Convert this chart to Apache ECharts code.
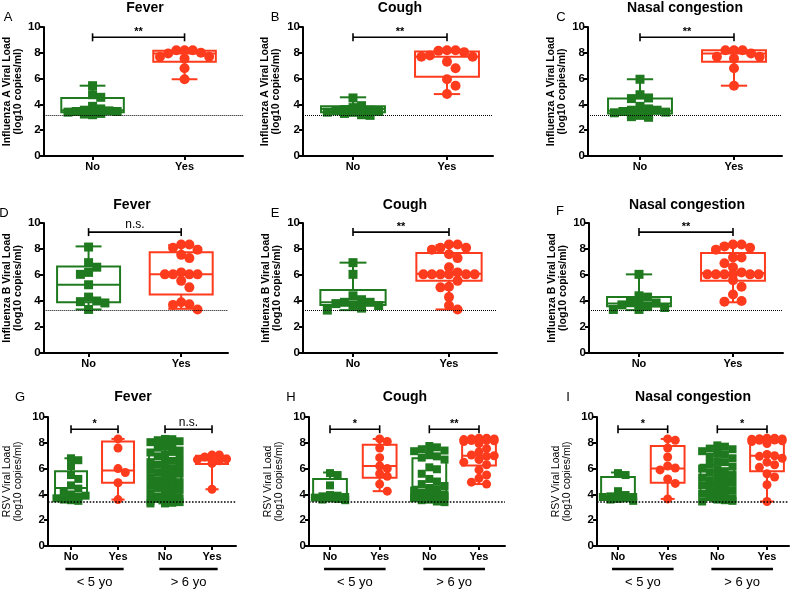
<!DOCTYPE html>
<html><head><meta charset="utf-8">
<script src="https://cdn.jsdelivr.net/npm/echarts@6/dist/echarts.min.js"></script>
<style>html,body{margin:0;padding:0;background:#fff}#c{width:790px;height:589px}</style>
</head><body><div id="c"></div>
<script>
// ---------- DATA ----------
const catsTwo = ['No', 'Yes'];
const catsFour = ['No', 'Yes', 'No', 'Yes'];
const ageGroups = ['< 5 yo', '> 6 yo'];
const symptoms = ['Fever', 'Cough', 'Nasal congestion'];
const panelLetters = ['A', 'B', 'C', 'D', 'E', 'F', 'G', 'H', 'I'];
const yAxisNames = ['Influenza A Viral Load\n(log10 copies/ml)', 'Influenza B Viral Load\n(log10 copies/ml)', 'RSV Viral Load\n(log10 copies/ml)'];
const yTickLabels = [0, 2, 4, 6, 8, 10];
const detectionLimits = [3.15, 3.3, 3.4];
const bracketLevels = [9.2, 9.3, 9.05];

// box stats: [min, Q1, median, Q3, max]
const fluA_fever_no = [5.45, 4.75, 4.55, 3.85, 3.65, 3.55, 3.5, 3.45, 3.45, 3.4, 3.35, 3.3, 3.25, 3.2];
const fluA_fever_no_box = [3.2, 3.4, 3.55, 4.5, 5.45];
const fluA_fever_yes = [8.2, 8.2, 8.2, 8.0, 7.95, 7.7, 7.7, 7.55, 6.8, 5.95];
const fluA_fever_yes_box = [5.95, 7.3, 7.95, 8.15, 8.2];
const fluA_cough_no = [4.5, 3.9, 3.75, 3.6, 3.55, 3.5, 3.45, 3.4, 3.4, 3.35, 3.3, 3.2, 3.15];
const fluA_cough_no_box = [3.15, 3.4, 3.65, 3.85, 4.55];
const fluA_cough_yes = [8.2, 8.2, 8.15, 8.05, 7.8, 7.7, 7.7, 7.3, 6.8, 5.95, 5.45, 4.8];
const fluA_cough_yes_box = [4.8, 6.15, 7.7, 8.1, 8.2];
const fluA_nasal_no = [5.95, 4.75, 4.5, 4.45, 3.85, 3.65, 3.55, 3.55, 3.45, 3.4, 3.35, 3.3, 3.15, 3.15, 3.05, 3.0];
const fluA_nasal_no_box = [3.0, 3.3, 3.5, 4.45, 5.95];
const fluA_nasal_yes = [8.2, 8.2, 8.2, 7.95, 7.7, 7.7, 7.55, 6.8, 5.45];
const fluA_nasal_yes_box = [5.45, 7.3, 7.95, 8.2, 8.2];

const fluB_fever_no = [8.15, 6.95, 6.6, 6.2, 6.05, 5.25, 4.3, 4.0, 3.95, 3.85, 3.35];
const fluB_fever_no_box = [3.35, 3.9, 5.25, 6.65, 8.2];
const fluB_fever_yes = [8.35, 8.35, 8.1, 7.95, 7.55, 7.3, 6.2, 6.05, 6.05, 6.05, 6.05, 5.55, 5.05, 3.9, 3.75, 3.7, 3.35];
const fluB_fever_yes_box = [3.4, 4.5, 6.05, 7.75, 8.3];
const fluB_cough_no = [6.95, 6.05, 4.4, 4.1, 3.9, 3.9, 3.8, 3.7, 3.65, 3.45, 3.3];
const fluB_cough_no_box = [3.3, 3.7, 3.9, 4.85, 6.95];
const fluB_cough_yes = [8.35, 8.35, 8.1, 8.1, 7.95, 7.6, 7.3, 6.6, 6.2, 6.05, 6.05, 6.05, 6.05, 6.05, 6.05, 5.55, 5.1, 5.05, 4.3, 3.65, 3.35];
const fluB_cough_yes_box = [3.35, 5.55, 6.1, 7.7, 8.3];
const fluB_nasal_no = [6.05, 4.4, 4.3, 3.9, 3.85, 3.75, 3.7, 3.6, 3.5, 3.35, 3.35];
const fluB_nasal_no_box = [3.3, 3.6, 3.8, 4.3, 6.05];
const fluB_nasal_yes = [8.35, 8.35, 8.2, 8.1, 7.95, 7.35, 7.35, 6.9, 6.6, 6.2, 6.05, 6.05, 6.05, 6.05, 6.05, 6.05, 5.6, 5.1, 4.5, 4.0, 3.95];
const fluB_nasal_yes_box = [3.9, 5.55, 6.15, 7.7, 8.35];

const rsv_fever_u5_no = [6.8, 6.65, 6.2, 5.5, 5.2, 4.7, 4.45, 4.2, 4.0, 3.9, 3.8, 3.7, 3.6, 3.55, 3.5];
const rsv_fever_u5_no_box = [3.5, 3.85, 4.5, 5.8, 6.8];
const rsv_fever_u5_yes = [8.3, 7.6, 6.0, 5.7, 4.9, 3.6];
const rsv_fever_u5_yes_box = [3.6, 4.9, 5.85, 8.1, 8.3];
const rsv_fever_o6_no = [8.3, 8.28, 8.2, 8.12, 8.05, 7.95, 7.9, 7.7, 7.62, 7.4, 7.3, 7.25, 7.1, 6.95, 6.8, 6.75, 6.6, 6.5, 6.45, 6.3, 6.2, 6.15, 6.0, 5.9, 5.85, 5.7, 5.6, 5.5, 5.45, 5.3, 5.2, 5.1, 5.05, 4.95, 4.8, 4.7, 4.65, 4.5, 4.4, 4.35, 4.2, 4.1, 4.05, 3.95, 3.85, 3.8, 3.7, 3.65, 3.6, 3.5, 3.45, 3.4, 3.35, 3.3, 3.3];
const rsv_fever_o6_no_box = [3.3, 4.0, 5.0, 7.1, 8.3];
const rsv_fever_o6_yes = [7.05, 7.05, 6.9, 6.75, 6.7, 6.65, 6.6, 6.4, 4.4];
const rsv_fever_o6_yes_box = [4.4, 6.35, 6.65, 7.0, 7.05];

const rsv_cough_u5_no = [5.65, 5.5, 4.7, 3.95, 3.9, 3.85, 3.8, 3.75, 3.7, 3.65, 3.6, 3.55];
const rsv_cough_u5_no_box = [3.5, 3.75, 3.9, 5.2, 5.7];
const rsv_cough_u5_yes = [8.3, 8.1, 7.6, 6.85, 6.2, 6.0, 5.6, 5.4, 4.8, 4.25];
const rsv_cough_u5_yes_box = [4.25, 5.3, 6.2, 7.85, 8.3];
const rsv_cough_o6_no = [7.75, 7.65, 7.5, 7.4, 7.35, 7.2, 7.1, 6.95, 6.85, 6.7, 6.1, 5.95, 5.6, 5.2, 5.0, 4.8, 4.65, 4.5, 4.4, 4.3, 4.25, 4.15, 4.1, 4.0, 3.95, 3.9, 3.85, 3.8, 3.75, 3.7, 3.65, 3.6, 3.55, 3.5, 3.45, 3.4];
const rsv_cough_o6_no_box = [3.4, 3.8, 4.6, 6.8, 7.7];
const rsv_cough_o6_yes = [8.35, 8.35, 8.32, 8.3, 8.25, 8.22, 8.2, 8.18, 8.15, 8.1, 7.95, 7.55, 7.3, 7.05, 7.0, 6.95, 6.7, 6.5, 6.3, 5.9, 5.5, 5.25, 4.95, 4.8];
const rsv_cough_o6_yes_box = [4.8, 6.25, 7.0, 8.1, 8.35];

const rsv_nasal_u5_no = [5.65, 5.5, 4.25, 3.95, 3.85, 3.8, 3.8, 3.75, 3.7, 3.65, 3.6, 3.5];
const rsv_nasal_u5_no_box = [3.5, 3.7, 3.8, 5.35, 5.7];
const rsv_nasal_u5_yes = [8.3, 8.2, 7.6, 6.9, 6.2, 6.05, 5.9, 5.2, 4.85, 3.65];
const rsv_nasal_u5_yes_box = [3.65, 4.9, 6.0, 7.75, 8.3];
const rsv_nasal_o6_no = [7.8, 7.7, 7.55, 7.5, 7.35, 7.3, 7.15, 7.1, 6.9, 6.8, 6.55, 6.5, 6.3, 6.15, 6.0, 5.95, 5.8, 5.7, 5.6, 5.5, 5.45, 5.3, 5.2, 5.1, 5.05, 4.95, 4.9, 4.8, 4.7, 4.6, 4.5, 4.45, 4.4, 4.3, 4.2, 4.15, 4.05, 4.0, 3.9, 3.85, 3.8, 3.7, 3.6, 3.55, 3.5, 3.45];
const rsv_nasal_o6_no_box = [3.45, 4.1, 4.85, 6.3, 7.75];
const rsv_nasal_o6_yes = [8.35, 8.35, 8.32, 8.3, 8.28, 8.25, 8.22, 8.2, 8.15, 8.1, 7.95, 7.1, 7.0, 6.95, 6.8, 6.5, 6.3, 6.1, 5.6, 5.35, 4.75, 3.45];
const rsv_nasal_o6_yes_box = [3.45, 5.8, 7.0, 8.1, 8.35];

const sig_A = ['**'], sig_B = ['**'], sig_C = ['**'];
const sig_D = ['n.s.'], sig_E = ['**'], sig_F = ['**'];
const sig_G = ['*', 'n.s.'], sig_H = ['*', '**'], sig_I = ['*', '*'];

// ---------- ASSEMBLY ----------
const panels = [
  { cats: catsTwo, groups: [[fluA_fever_no, fluA_fever_no_box], [fluA_fever_yes, fluA_fever_yes_box]], sig: sig_A, row: 0 },
  { cats: catsTwo, groups: [[fluA_cough_no, fluA_cough_no_box], [fluA_cough_yes, fluA_cough_yes_box]], sig: sig_B, row: 0 },
  { cats: catsTwo, groups: [[fluA_nasal_no, fluA_nasal_no_box], [fluA_nasal_yes, fluA_nasal_yes_box]], sig: sig_C, row: 0 },
  { cats: catsTwo, groups: [[fluB_fever_no, fluB_fever_no_box], [fluB_fever_yes, fluB_fever_yes_box]], sig: sig_D, row: 1 },
  { cats: catsTwo, groups: [[fluB_cough_no, fluB_cough_no_box], [fluB_cough_yes, fluB_cough_yes_box]], sig: sig_E, row: 1 },
  { cats: catsTwo, groups: [[fluB_nasal_no, fluB_nasal_no_box], [fluB_nasal_yes, fluB_nasal_yes_box]], sig: sig_F, row: 1 },
  { cats: catsFour, groups: [[rsv_fever_u5_no, rsv_fever_u5_no_box], [rsv_fever_u5_yes, rsv_fever_u5_yes_box], [rsv_fever_o6_no, rsv_fever_o6_no_box], [rsv_fever_o6_yes, rsv_fever_o6_yes_box]], sig: sig_G, row: 2 },
  { cats: catsFour, groups: [[rsv_cough_u5_no, rsv_cough_u5_no_box], [rsv_cough_u5_yes, rsv_cough_u5_yes_box], [rsv_cough_o6_no, rsv_cough_o6_no_box], [rsv_cough_o6_yes, rsv_cough_o6_yes_box]], sig: sig_H, row: 2 },
  { cats: catsFour, groups: [[rsv_nasal_u5_no, rsv_nasal_u5_no_box], [rsv_nasal_u5_yes, rsv_nasal_u5_yes_box], [rsv_nasal_o6_no, rsv_nasal_o6_no_box], [rsv_nasal_o6_yes, rsv_nasal_o6_yes_box]], sig: sig_I, row: 2 }
];

// ---------- LAYOUT / STYLE ----------
const FONT = 'Liberation Sans, Arial, Helvetica, sans-serif';
const GREEN = '#1f7a1f', RED = '#ff3b1d';
const rowBox = [{ T: 27, B: 156 }, { T: 223, B: 353 }, { T: 417, B: 546 }];
const layout = [
  { L: 35, R: 243, c0: 86, c1: 182, gap: 17 },
  { L: 303, R: 493, c0: 353, c1: 447, gap: 21 },
  { L: 588, R: 782, c0: 640, c1: 734, gap: 20 },
  { L: 35, R: 228, c0: 82, c1: 179, gap: 17 },
  { L: 303, R: 497, c0: 353, c1: 449, gap: 20 },
  { L: 589, R: 783, c0: 639, c1: 733, gap: 20 },
  { L: 40, R: 236, c0: 64, c1: 211, gap: 24 },
  { L: 309, R: 505, c0: 330, c1: 479, gap: 24 },
  { L: 597, R: 789, c0: 618, c1: 767, gap: 24 }
];
const titlePos = [[145, 8], [400, 8], [685, 8], [132, 205], [405, 205], [687, 205], [133, 397], [405, 397], [693, 397]];
const letterPos = [[8, 17], [275, 17], [561, 17], [4, 213], [275, 213], [560, 211], [20, 397], [291, 397], [568, 397]];

function swarm(values, center, unitPx, yPx, size, maxHalfPx) {
  const order = values.map((v, i) => [v, i]).sort((a, b) => b[0] - a[0]);
  const placed = [];
  const out = new Array(values.length);
  const step = size * 0.95;
  const maxK = Math.max(0, Math.floor(maxHalfPx / step));
  order.forEach(([v, i]) => {
    const py = v * yPx;
    let best = 0, bestCount = Infinity;
    for (let k = 0; k <= 2 * maxK; k++) {
      const off = (k % 2 === 1 ? 1 : -1) * Math.ceil(k / 2) * step;
      let cnt = 0;
      for (const p of placed) {
        if (Math.abs(p[0] - off) < size * 0.9 && Math.abs(p[1] - py) < size * 0.9) cnt++;
      }
      if (cnt === 0) { best = off; bestCount = 0; break; }
      if (cnt < bestCount) { bestCount = cnt; best = off; }
    }
    placed.push([best, py]);
    out[i] = [center + best / unitPx, v];
  });
  return out;
}

const grid = [], xAxis = [], yAxis = [], series = [], graphic = [];

panels.forEach((p, pi) => {
  const lay = layout[pi];
  const rb = rowBox[p.row];
  const n = p.cats.length;
  const unit = (lay.c1 - lay.c0) / (n - 1);
  const xmin = -(lay.c0 - lay.L) / unit;
  const xmax = (n - 1) + (lay.R - lay.c1) / unit;
  const yPx = (rb.B - rb.T) / 10;
  const idx = p.cats.map((c, i) => i);
  const msize = p.row === 2 ? 8 : 9;
  const textC = '#000';

  grid.push({ left: lay.L, top: rb.T, width: lay.R - lay.L, height: rb.B - rb.T });
  xAxis.push({
    gridIndex: pi, type: 'value', min: xmin, max: xmax,
    axisLine: { onZero: false, lineStyle: { color: '#000', width: 2 } },
    axisTick: { show: true, customValues: idx, length: 4, lineStyle: { color: '#000', width: 2 } },
    axisLabel: { customValues: idx, formatter: v => p.cats[Math.round(v)], fontWeight: 'bold', fontSize: 11, color: textC, fontFamily: FONT, margin: 5 },
    splitLine: { show: false }
  });
  yAxis.push({
    gridIndex: pi, type: 'value', min: 0, max: 10, interval: 2,
    axisLine: { show: true, onZero: false, lineStyle: { color: '#000', width: 2 } },
    axisTick: { show: true, length: 4, lineStyle: { color: '#000', width: 2 } },
    axisLabel: { fontWeight: 'bold', fontSize: 11.5, color: textC, fontFamily: FONT, margin: 3,
      formatter: v => String(yTickLabels[yTickLabels.indexOf(v)]) },
    splitLine: { show: false },
    name: yAxisNames[p.row], nameLocation: 'middle', nameGap: lay.gap,
    nameTextStyle: { fontWeight: p.row === 2 ? 'normal' : 'bold', fontSize: 10.5, lineHeight: 11.5, color: textC, fontFamily: FONT }
  });

  // boxes
  const boxData = p.groups.map((g, gi) => [gi].concat(g[1]).concat([gi % 2]));
  series.push({
    type: 'custom', xAxisIndex: pi, yAxisIndex: pi, z: 2, silent: true,
    encode: { x: 0, y: [1, 2, 3, 4, 5] },
    data: boxData,
    renderItem: (params, api) => {
      const x = api.value(0);
      const col = api.value(6) === 0 ? GREEN : RED;
      const pMin = api.coord([x, api.value(1)]);
      const pQ1 = api.coord([x, api.value(2)]);
      const pMed = api.coord([x, api.value(3)]);
      const pQ3 = api.coord([x, api.value(4)]);
      const pMax = api.coord([x, api.value(5)]);
      const half = api.coord([x + 0.34, 0])[0] - pMin[0];
      const cap = api.coord([x + 0.14, 0])[0] - pMin[0];
      const cx = pMin[0];
      const ls = { stroke: col, lineWidth: 2, fill: null };
      return {
        type: 'group', children: [
          { type: 'line', shape: { x1: cx, y1: pQ3[1], x2: cx, y2: pMax[1] }, style: ls },
          { type: 'line', shape: { x1: cx - cap, y1: pMax[1], x2: cx + cap, y2: pMax[1] }, style: ls },
          { type: 'line', shape: { x1: cx, y1: pQ1[1], x2: cx, y2: pMin[1] }, style: ls },
          { type: 'line', shape: { x1: cx - cap, y1: pMin[1], x2: cx + cap, y2: pMin[1] }, style: ls },
          { type: 'rect', shape: { x: cx - half, y: pQ3[1], width: 2 * half, height: pQ1[1] - pQ3[1] }, style: { stroke: col, lineWidth: 2, fill: '#fff' } },
          { type: 'line', shape: { x1: cx - half, y1: pMed[1], x2: cx + half, y2: pMed[1] }, style: ls }
        ]
      };
    }
  });

  // points
  const greenPts = [], redPts = [];
  p.groups.forEach((g, gi) => {
    const pts = swarm(g[0], gi, unit, yPx, msize, 0.33 * unit);
    (gi % 2 === 0 ? greenPts : redPts).push(...pts);
  });
  series.push({
    type: 'scatter', xAxisIndex: pi, yAxisIndex: pi, z: 3, silent: true,
    symbol: 'rect', symbolSize: msize, itemStyle: { color: GREEN, opacity: 1 },
    data: greenPts,
    markLine: {
      silent: true, symbol: ['none', 'none'], label: { show: false }, animation: false,
      lineStyle: { type: 'dotted', color: '#000', width: p.row === 2 ? 1.6 : 1 },
      data: [{ yAxis: detectionLimits[p.row] }]
    }
  });
  series.push({
    type: 'scatter', xAxisIndex: pi, yAxisIndex: pi, z: 3, silent: true,
    symbol: 'circle', symbolSize: msize + 1, itemStyle: { color: RED, opacity: 1 },
    data: redPts
  });

  // significance brackets
  const brData = p.sig.map((s, si) => [2 * si, 2 * si + 1, bracketLevels[p.row]]);
  series.push({
    type: 'custom', xAxisIndex: pi, yAxisIndex: pi, z: 4, silent: true, clip: false,
    encode: { x: [0, 1], y: 2 },
    data: brData,
    renderItem: (params, api) => {
      const a = api.coord([api.value(0), api.value(2)]);
      const b = api.coord([api.value(1), api.value(2)]);
      const txt = p.sig[params.dataIndex];
      const stars = txt.indexOf('*') >= 0;
      const st = { stroke: '#000', lineWidth: 1.6 };
      return {
        type: 'group', children: [
          { type: 'line', shape: { x1: a[0], y1: a[1], x2: b[0], y2: b[1] }, style: st },
          { type: 'line', shape: { x1: a[0], y1: a[1] - 4, x2: a[0], y2: a[1] + 4 }, style: st },
          { type: 'line', shape: { x1: b[0], y1: b[1] - 4, x2: b[0], y2: b[1] + 4 }, style: st },
          { type: 'text', style: { text: txt, x: (a[0] + b[0]) / 2, y: a[1] - (stars ? 0 : 1), textAlign: 'center', textVerticalAlign: 'bottom',
            fontSize: stars ? 11 : 12, fontWeight: stars ? 'bold' : 'normal', fontFamily: FONT, fill: '#000' } }
        ]
      };
    }
  });

  // age-group underlines (RSV panels)
  if (p.row === 2) {
    const agData = ageGroups.map((g, gi) => [2 * gi - 0.12, 2 * gi + 1.12]);
    series.push({
      type: 'custom', xAxisIndex: pi, yAxisIndex: pi, z: 4, silent: true, clip: false,
      encode: { x: [0, 1] },
      data: agData,
      renderItem: (params, api) => {
        const a = api.coord([api.value(0), 0]);
        const b = api.coord([api.value(1), 0]);
        return {
          type: 'group', children: [
            { type: 'line', shape: { x1: a[0], y1: a[1] + 23, x2: b[0], y2: b[1] + 23 }, style: { stroke: '#000', lineWidth: 2.5 } },
            { type: 'text', style: { text: ageGroups[params.dataIndex], x: (a[0] + b[0]) / 2, y: a[1] + 36, textAlign: 'center', textVerticalAlign: 'middle',
              fontSize: 13, fontFamily: FONT, fill: '#000' } }
          ]
        };
      }
    });
  }

  graphic.push({ type: 'text', x: titlePos[pi][0], y: titlePos[pi][1], silent: true,
    style: { text: symptoms[pi % 3], textAlign: 'center', textVerticalAlign: 'middle', fontSize: 14, fontWeight: 'bold', fontFamily: FONT, fill: '#000' } });
  graphic.push({ type: 'text', x: letterPos[pi][0], y: letterPos[pi][1], silent: true,
    style: { text: panelLetters[pi], textAlign: 'center', textVerticalAlign: 'middle', fontSize: 13, fontFamily: FONT, fill: '#000' } });
});

const chart = echarts.init(document.getElementById('c'), null, { renderer: 'canvas' });
chart.setOption({
  animation: false,
  backgroundColor: '#fff',
  textStyle: { fontFamily: FONT },
  grid, xAxis, yAxis, series, graphic
});
</script>
</body></html>
